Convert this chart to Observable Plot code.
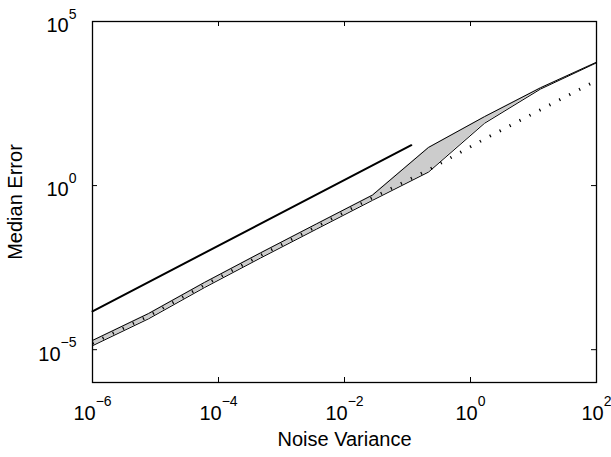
<!DOCTYPE html>
<html><head><meta charset="utf-8">
<script src="https://cdn.jsdelivr.net/npm/d3@7"></script>
<script src="https://cdn.jsdelivr.net/npm/@observablehq/plot@0.6"></script>
<style>html,body{margin:0;padding:0;background:#fff} svg{display:block}</style>
</head><body><div id="chart"></div>
<script>
// Noise variance sample points (log-spaced)
const noiseVariance = [1e-6, 7.74e-6, 5.99e-5, 4.64e-4, 3.59e-3, 2.78e-2, 0.215, 1.668, 12.9, 100];
// Upper / lower envelope of the shaded band
const upperError = [1.91e-5, 1.26e-4, 1.12e-3, 8.9e-3, 6.8e-2, 0.513, 14.5, 126, 955, 5750];
const lowerError = [1.32e-5, 8.7e-5, 7.8e-4, 6.2e-3, 4.7e-2, 0.355, 2.57, 79, 871, 5500];
// Dotted series
const dottedError = [1.58e-5, 1.05e-4, 9.3e-4, 7.4e-3, 5.6e-2, 0.427, 3.0, 26.3, 204, 1585];
// Solid reference line
const boundX = [1e-6, 0.115];
const boundY = [1.48e-4, 17];
// Ticks
const xTicks = [1e-6, 1e-4, 1e-2, 1e0, 1e2];
const xTickExp = ["\u22126", "\u22124", "\u22122", "0", "2"];
const yTicks = [1e-5, 1e0, 1e5];
const yTickExp = ["\u22125", "0", "5"];

const band = noiseVariance.map((x, i) => ({x, lo: lowerError[i], hi: upperError[i], dot: dottedError[i]}));
const bound = boundX.map((x, i) => ({x, y: boundY[i]}));

const W = 611, H = 457, mL = 92, mR = 15, mT = 21, mB = 75;
const fw = W - mL - mR, fh = H - mT - mB;
const tick = 5;
const font = "'Liberation Sans', Arial, Helvetica, sans-serif";

const chart = Plot.plot({
  width: W, height: H,
  marginLeft: mL, marginRight: mR, marginTop: mT, marginBottom: mB,
  style: {fontFamily: font, background: "#fff", color: "black"},
  x: {type: "log", domain: [1e-6, 1e2], axis: null},
  y: {type: "log", domain: [1e-6, 1e5], axis: null},
  marks: [
    Plot.areaY(band, {x: "x", y1: "lo", y2: "hi", fill: "#cccccc"}),
    Plot.line(band, {x: "x", y: "hi", stroke: "black", strokeWidth: 1}),
    Plot.line(band, {x: "x", y: "lo", stroke: "black", strokeWidth: 1}),
    Plot.line(band, {x: "x", y: "dot", stroke: "black", strokeWidth: 3, strokeDasharray: "1.2,10", strokeLinecap: "butt"}),
    Plot.line(bound, {x: "x", y: "y", stroke: "black", strokeWidth: 2}),
    Plot.frame({stroke: "black", strokeWidth: 1.3}),
    Plot.tickX(xTicks, {x: d => d, insetTop: fh - tick, stroke: "black", strokeWidth: 1}),
    Plot.tickX(xTicks, {x: d => d, insetBottom: fh - tick, stroke: "black", strokeWidth: 1}),
    Plot.tickY(yTicks, {y: d => d, insetRight: fw - tick, stroke: "black", strokeWidth: 1}),
    Plot.tickY(yTicks, {y: d => d, insetLeft: fw - tick, stroke: "black", strokeWidth: 1}),
    Plot.text(xTicks, {x: d => d, frameAnchor: "bottom", text: (d, i) => "10^" + xTickExp[i], dy: 37, textAnchor: "middle", fontSize: 20, fill: "black"}),
    Plot.text(yTicks, {y: d => d, frameAnchor: "left", text: (d, i) => "10^" + yTickExp[i], dx: -16, dy: 4.5, textAnchor: "end", fontSize: 20, fill: "black"}),
    Plot.text(["Noise Variance"], {frameAnchor: "bottom", dy: 63.5, textAnchor: "middle", fontSize: 20, fill: "black"}),
    Plot.text(["Median Error"], {frameAnchor: "left", rotate: -90, dx: -77, textAnchor: "middle", fontSize: 20, fill: "black"})
  ]
});

// Render tick labels as 10 with a superscript exponent
const ns = "http://www.w3.org/2000/svg";
chart.querySelectorAll("text").forEach(t => {
  const s = t.textContent;
  if (!s.includes("^")) return;
  const [b, exp] = s.split("^");
  t.textContent = "";
  const base = document.createElementNS(ns, "tspan");
  base.textContent = b;
  const sup = document.createElementNS(ns, "tspan");
  sup.setAttribute("dy", "-13.5");
  sup.setAttribute("font-size", "14");
  sup.textContent = exp;
  t.appendChild(base);
  t.appendChild(sup);
});
document.getElementById("chart").appendChild(chart);
</script>
</body></html>
